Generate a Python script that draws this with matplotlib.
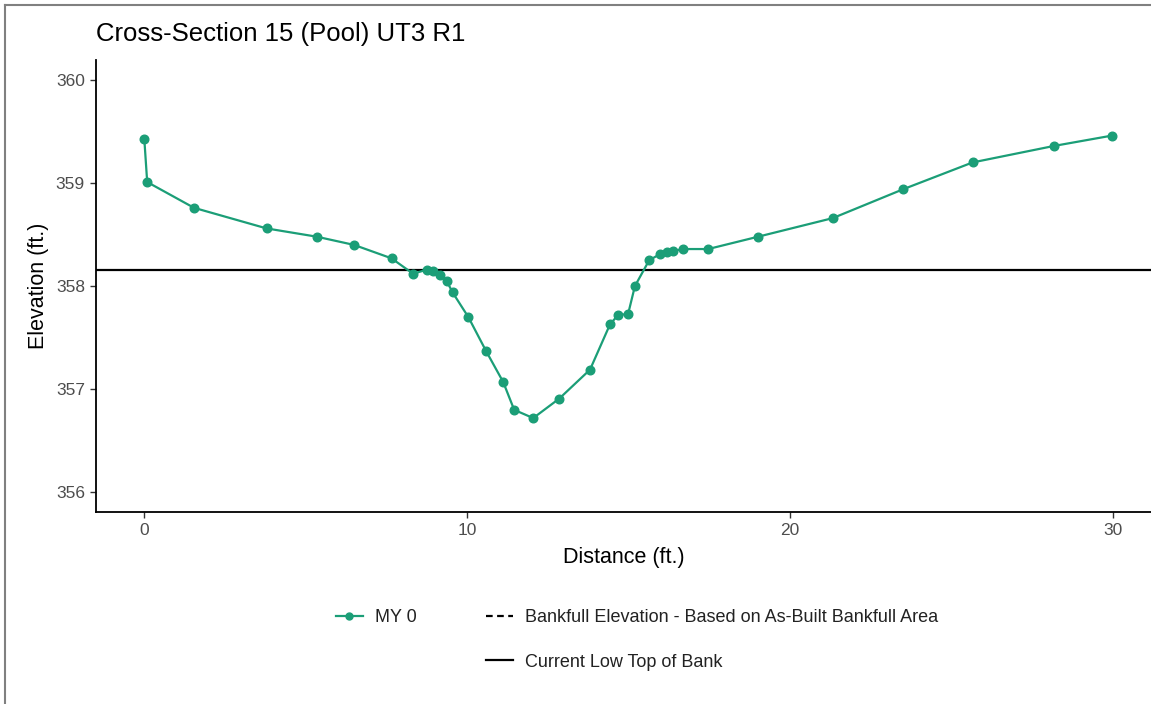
import numpy as np
import matplotlib
matplotlib.use("Agg")
import matplotlib.pyplot as plt
from matplotlib.lines import Line2D

plt.rcParams['font.family'] = ['Liberation Sans', 'DejaVu Sans']

# survey points (MY 0)
distance = [0.00, 0.09, 1.54, 3.79, 5.34, 6.50, 7.66, 8.33, 8.75, 8.95,
            9.16, 9.37, 9.55, 10.04, 10.59, 11.12, 11.46, 12.05, 12.86, 13.81,
            14.43, 14.68, 14.99, 15.20, 15.64, 15.97, 16.18, 16.39, 16.68, 17.47,
            19.02, 21.33, 23.51, 25.66, 28.18, 29.97]
elevation = [359.43, 359.01, 358.76, 358.56, 358.48, 358.40, 358.27, 358.12, 358.16, 358.15,
             358.11, 358.05, 357.94, 357.70, 357.37, 357.07, 356.80, 356.72, 356.91, 357.19,
             357.63, 357.72, 357.73, 358.00, 358.25, 358.31, 358.33, 358.34, 358.36, 358.36,
             358.48, 358.66, 358.94, 359.20, 359.36, 359.46]
low_top_of_bank = 358.155

x_ticks = [0, 10, 20, 30]
y_ticks = [356, 357, 358, 359, 360]

green = '#1b9e77'

fig = plt.figure(figsize=(11.51, 7.04), dpi=100)
ax = fig.add_axes([96 / 1151, 1 - 512.3 / 704, 1 - 96 / 1151, (512.3 - 60) / 704])

ax.axhline(low_top_of_bank, color='black', lw=1.6, zorder=2)
ax.plot(distance, elevation, color=green, lw=1.6, marker='o', ms=6.2,
        mec=green, mfc=green, zorder=3)

ax.set_xlim(-1.496, 31.19)
ax.set_ylim(355.806, 360.194)
ax.set_xticks(x_ticks)
ax.set_yticks(y_ticks)
for s in ['top', 'right']:
    ax.spines[s].set_visible(False)
for s in ['left', 'bottom']:
    ax.spines[s].set_linewidth(1.3)
    ax.spines[s].set_color('black')
ax.tick_params(length=4, width=1.0, color='#333333', labelcolor='#4d4d4d',
               labelsize=12.5, pad=4)

ax.set_xlabel('Distance (ft.)', fontsize=15.5, labelpad=6)
ax.set_ylabel('Elevation (ft.)', fontsize=15.5, labelpad=5)
fig.text(96 / 1151, 1 - 34 / 704, 'Cross-Section 15 (Pool) UT3 R1',
         fontsize=18.5, va='center', ha='left')

# legend
handles = [
    Line2D([], [], color=green, lw=1.6, marker='o', ms=5),
    Line2D([], [], color='none'),
    Line2D([], [], color='black', lw=1.6, ls=(0, (3, 2))),
    Line2D([], [], color='black', lw=1.6),
]
labels = ['MY 0', '', 'Bankfull Elevation - Based on As-Built Bankfull Area',
          'Current Low Top of Bank']
leg = fig.legend(handles, labels, ncol=2, loc='center',
                 bbox_to_anchor=(637 / 1151, 1 - 640 / 704), frameon=False,
                 prop={'family': ['Liberation Sans Narrow', 'Liberation Sans'], 'size': 13},
                 handlelength=1.5, columnspacing=3.8, labelspacing=1.5,
                 handletextpad=0.7)
for t in leg.get_texts():
    t.set_color('#222222')

# page border
fig.add_artist(Line2D([5 / 1151, 5 / 1151], [0, 1 - 5 / 704], transform=fig.transFigure,
                      color='#808080', lw=1.5))
fig.add_artist(Line2D([5 / 1151, 1], [1 - 5 / 704, 1 - 5 / 704], transform=fig.transFigure,
                      color='#808080', lw=1.5))

fig.savefig('out.png', dpi=100)
